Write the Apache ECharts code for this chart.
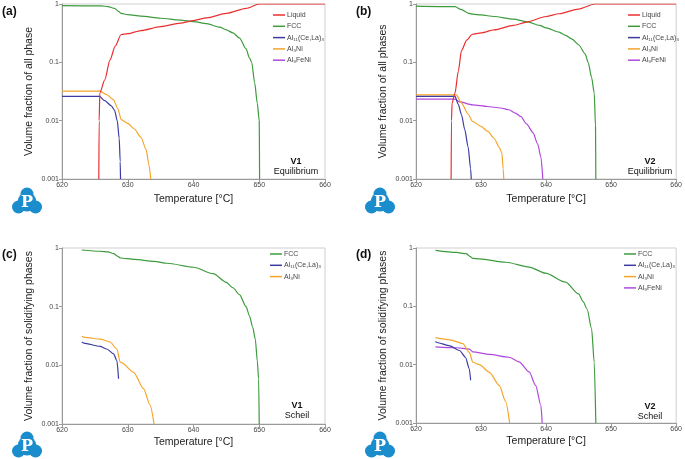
<!DOCTYPE html>
<html><head><meta charset="utf-8">
<script src="https://cdn.jsdelivr.net/npm/echarts@6/dist/echarts.min.js"></script>
<style>html,body{margin:0;padding:0;background:#fff}#c{width:685px;height:459px}</style>
</head><body><div id="c"></div>
<script>
// ---- data (temperature °C, volume fraction) ----
var xTicks = [620, 630, 640, 650, 660];
var yTicks = [0.001, 0.01, 0.1, 1];
var phaseNames = ['Liquid', 'FCC', 'Al₁₁(Ce,La)₃', 'Al₃Ni', 'Al₉FeNi'];

// (a) V1 Equilibrium
var aLiquid = [[625.6,0.001],[625.65,0.01],[625.75,0.03],[626.5,0.05],[627.3,0.11],[628.1,0.19],[629,0.3],[630,0.31],[632,0.35],[635,0.41],[638,0.47],[640,0.52],[642,0.58],[645,0.69],[648,0.84],[650,1],[660,1]];
var aFCC = [[620,0.935],[626,0.93],[627,0.9],[628,0.84],[628.6,0.75],[629,0.69],[630,0.66],[632,0.62],[635,0.57],[638,0.53],[640,0.5],[642,0.46],[644,0.4],[645,0.36],[646,0.32],[647,0.26],[648,0.17],[648.5,0.12],[648.85,0.1],[649.3,0.045],[649.7,0.02],[650,0.01],[650.05,0.001]];
var aAl11 = [[620,0.026],[625.7,0.026],[626.5,0.022],[627.5,0.018],[628,0.015],[628.4,0.01],[628.7,0.005],[628.85,0.002],[628.9,0.001]];
var aAl3Ni = [[620,0.032],[625.8,0.032],[626.8,0.028],[627.8,0.023],[628.5,0.016],[629,0.0104],[630,0.009],[631,0.0072],[632,0.0052],[632.8,0.0032],[633.2,0.0018],[633.5,0.001]];
var aAl9FeNi = [];

// (b) V2 Equilibrium
var bLiquid = [[625.4,0.001],[625.45,0.01],[625.55,0.02],[626,0.03],[626.5,0.07],[627,0.16],[627.8,0.24],[628.6,0.3],[630,0.32],[632,0.36],[635,0.43],[637,0.49],[640,0.61],[642,0.68],[645,0.82],[647.5,1],[660,1]];
var bFCC = [[620,0.92],[626,0.9],[627,0.8],[628,0.7],[628.7,0.67],[630,0.65],[632,0.61],[635,0.55],[637,0.5],[639,0.43],[640,0.39],[642,0.33],[643,0.29],[644,0.25],[645,0.2],[646,0.14],[646.5,0.097],[647,0.055],[647.4,0.03],[647.6,0.008],[647.65,0.001]];
var bAl11 = [[620,0.026],[626,0.026],[626.5,0.019],[627,0.0126],[627.5,0.007],[628,0.0036],[628.4,0.0015],[628.5,0.001]];
var bAl3Ni = [[620,0.0277],[626.2,0.0277],[627,0.02],[628,0.013],[628.7,0.0097],[630,0.008],[631,0.0066],[632,0.005],[632.8,0.0035],[633.2,0.0028],[633.4,0.0015],[633.5,0.001]];
var bAl9FeNi = [[620,0.0234],[626,0.0234],[626.7,0.021],[628.7,0.0187],[631,0.0175],[633,0.0165],[634.3,0.0154],[635.3,0.0135],[636.1,0.0118],[637,0.0088],[638,0.0062],[638.7,0.004],[639.2,0.0024],[639.5,0.001]];

// (c) V1 Scheil
var cFCC = [[623,0.925],[625.8,0.88],[627,0.86],[627.85,0.8],[628.5,0.72],[628.9,0.675],[631,0.64],[634,0.59],[636,0.55],[640,0.47],[643,0.365],[645,0.26],[646,0.21],[647,0.16],[648,0.1],[648.5,0.07],[649,0.045],[649.4,0.028],[649.7,0.012],[649.9,0.0059],[650,0.001]];
var cAl11 = [[623,0.025],[623.3,0.024],[625.8,0.021],[626.8,0.019],[627.85,0.0157],[628.35,0.012],[628.6,0.0059]];
var cAl3Ni = [[623,0.0314],[623.5,0.030],[625.8,0.028],[627.3,0.025],[628.35,0.019],[628.86,0.0113],[629.1,0.011],[630.9,0.0076],[632.4,0.004],[633.4,0.0021],[634,0.001]];

// (d) V2 Scheil
var dFCC = [[623,0.91],[626.2,0.84],[627.7,0.8],[628.3,0.72],[628.74,0.665],[629.8,0.65],[633.8,0.57],[637.4,0.47],[639.9,0.37],[643,0.26],[645,0.163],[645.7,0.12],[646.3,0.09],[647,0.041],[647.4,0.011],[647.65,0.001]];
var dAl11 = [[623,0.025],[623.2,0.024],[625.2,0.021],[626.7,0.0175],[627.6,0.0134],[628.2,0.0085],[628.4,0.0054]];
var dAl3Ni = [[623,0.029],[625.2,0.0267],[627.2,0.023],[628.2,0.0163],[628.74,0.011],[629.75,0.01],[631.3,0.0074],[632.8,0.0044],[633.8,0.0023],[634.4,0.001]];
var dAl9FeNi = [[623,0.0202],[626.2,0.0195],[628.2,0.0185],[628.74,0.0166],[631.3,0.015],[634.3,0.0134],[635.85,0.0112],[637.4,0.0075],[638.4,0.0044],[639.2,0.002],[639.4,0.001]];

var panels = [
  {label:'(a)', alloy:'V1', mode:'Equilibrium', ytitle:'Volume fraction of all phase', series:[aLiquid,aFCC,aAl11,aAl3Ni,aAl9FeNi], legend:[0,1,2,3,4]},
  {label:'(b)', alloy:'V2', mode:'Equilibrium', ytitle:'Volume fraction of all phases', series:[bLiquid,bFCC,bAl11,bAl3Ni,bAl9FeNi], legend:[0,1,2,3,4]},
  {label:'(c)', alloy:'V1', mode:'Scheil', ytitle:'Volume fraction of solidifying phases', series:[null,cFCC,cAl11,cAl3Ni,null], legend:[1,2,3]},
  {label:'(d)', alloy:'V2', mode:'Scheil', ytitle:'Volume fraction of solidifying phases', series:[null,dFCC,dAl11,dAl3Ni,dAl9FeNi], legend:[1,2,3,4]}
];

// ---- layout / style ----
var colors = ['#e8302f', '#3d9b3d', '#3b3ba3', '#f5a52a', '#b048dc'];
var grids = [
  {left:62, top:4, width:263, height:175},
  {left:416, top:4, width:262, height:175},
  {left:62, top:248, width:263, height:176},
  {left:416, top:248, width:262, height:175}
];
var xNameGaps = [15, 15, 13, 13];
var legendPos = [{left:273,top:11},{left:628,top:11},{left:270,top:250},{left:624,top:250}];
var labelPos = [[2,13],[356,13],[2,256],[356,256]];
var notePos = [[296,162],[650,162],[297,406],[650,407]];
var logoPos = [[27,201],[380,201],[27,445],[380,445]];

var option = {animation:false, backgroundColor:'#fff', grid:[], xAxis:[], yAxis:[], series:[], legend:[], graphic:[]};
var fontFam = 'Liberation Sans, Arial, sans-serif';

panels.forEach(function(p, i){
  var g = grids[i];
  option.grid.push({left:g.left, top:g.top, width:g.width, height:g.height, show:true, borderColor:'#cfcfcf', borderWidth:1});
  option.xAxis.push({
    gridIndex:i, type:'value', min:xTicks[0], max:xTicks[xTicks.length-1], interval:10,
    axisLine:{show:true, lineStyle:{color:'#9a9a9a', width:1}},
    axisTick:{show:true, length:3, lineStyle:{color:'#9a9a9a'}},
    axisLabel:{fontSize:7, color:'#444', margin:3, fontFamily:fontFam},
    splitLine:{show:false},
    name:'Temperature [°C]', nameLocation:'middle', nameGap:xNameGaps[i],
    nameTextStyle:{fontSize:10.5, color:'#222', fontFamily:fontFam}
  });
  option.yAxis.push({
    gridIndex:i, type:'log', logBase:10, min:yTicks[0], max:yTicks[yTicks.length-1],
    axisLine:{show:true, lineStyle:{color:'#9a9a9a', width:1}},
    axisTick:{show:true, length:3, lineStyle:{color:'#9a9a9a'}},
    minorTick:{show:false},
    axisLabel:{fontSize:7, color:'#444', margin:3, fontFamily:fontFam,
      formatter:function(v){ var n = Math.round(Math.log10(v)); return n >= 0 ? '1' : (Math.pow(10,n)).toFixed(-n); }},
    splitLine:{show:false},
    name:p.ytitle, nameLocation:'middle', nameGap:27,
    nameTextStyle:{fontSize:10.5, color:'#222', fontFamily:fontFam}
  });
  p.series.forEach(function(d, k){
    if (d === null) return;
    option.series.push({
      type:'line', name:phaseNames[k], xAxisIndex:i, yAxisIndex:i,
      data:d, showSymbol:false, symbol:'none', smooth:0.25, smoothMonotone:'x',
      lineStyle:{color:colors[k], width:1.2}, itemStyle:{color:colors[k]}, z:10-k
    });
  });
  option.legend.push({
    orient:'vertical', left:legendPos[i].left, top:legendPos[i].top,
    data:p.legend.map(function(k){return phaseNames[k];}),
    icon:'rect', itemWidth:12, itemHeight:1.5, itemGap:3.3,
    textStyle:{fontSize:7, color:'#444', lineHeight:8, fontFamily:fontFam, padding:[0,0,0,-3]},
    selectedMode:false, padding:0
  });
  option.graphic.push({type:'text', left:labelPos[i][0], top:labelPos[i][1]-7,
    style:{text:p.label, font:'bold 12px '+fontFam, fill:'#111'}});
  option.graphic.push({type:'text', x:notePos[i][0], y:notePos[i][1],
    style:{text:p.alloy, font:'bold 9px '+fontFam, fill:'#111', align:'center', verticalAlign:'middle'}});
  option.graphic.push({type:'text', x:notePos[i][0], y:notePos[i][1]+10,
    style:{text:p.mode, font:'9px '+fontFam, fill:'#111', align:'center', verticalAlign:'middle'}});
  var lx = logoPos[i][0], ly = logoPos[i][1], blue = '#1b8dcc';
  option.graphic.push({type:'group', x:lx, y:ly, children:[
    {type:'circle', shape:{cx:0, cy:-7, r:6.5}, style:{fill:blue}},
    {type:'circle', shape:{cx:-8.5, cy:6, r:6.5}, style:{fill:blue}},
    {type:'circle', shape:{cx:8.5, cy:6, r:6.5}, style:{fill:blue}},
    {type:'polygon', shape:{points:[[0,-13],[-14.5,8],[14.5,8]]}, style:{fill:blue}},
    {type:'circle', shape:{cx:0, cy:1, r:9.5}, style:{fill:blue}},
    {type:'text', x:0, y:1.5, style:{text:'P', font:'bold 16px DejaVu Serif, serif', fill:'#fff', align:'center', verticalAlign:'middle'}}
  ]});
});

var chart = echarts.init(document.getElementById('c'), null, {renderer:'canvas', width:685, height:459});
chart.setOption(option);
</script>
</body></html>
